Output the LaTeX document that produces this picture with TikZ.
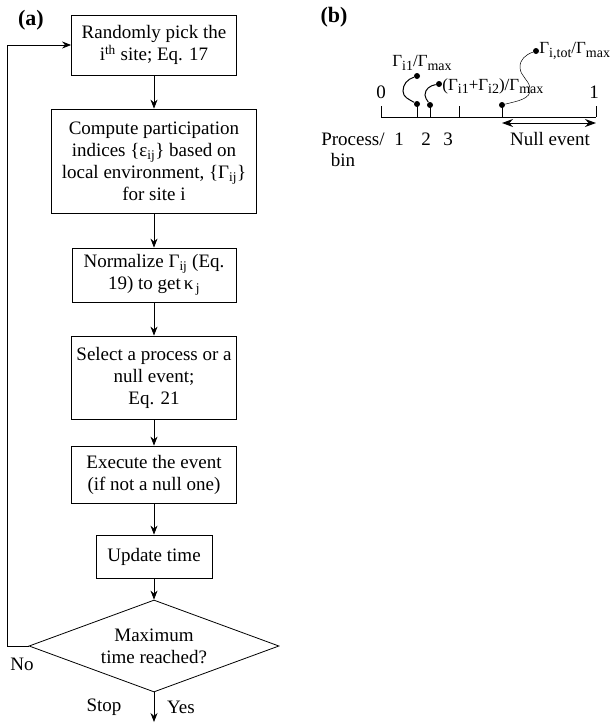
\documentclass[tikz,border=0pt]{standalone}
\usepackage{fontspec}
\setmainfont{Liberation Serif}
\usetikzlibrary{arrows.meta, positioning, shapes.geometric}
\newcommand{\lowsub}[1]{\raisebox{-0.4ex}{\fontsize{14}{14}\selectfont #1}}

\begin{document}
\begin{tikzpicture}[
x=1pt, y=-1pt,
>={Stealth[length=9pt,width=7pt]},
line width=0.8pt,
every node/.style={font=\fontsize{19}{22}\selectfont, inner sep=1pt},
stepbox/.style={draw, align=center},
dot/.style={circle, fill, inner sep=0pt, minimum size=6pt},
ratelabel/.style={font=\fontsize{17}{17}\selectfont},
panel/.style={font=\fontsize{22}{22}\selectfont\bfseries},
]
\useasboundingbox (0,0) rectangle (610,724);

% flow chart (a)
\node[panel] (pa) at (31,20) {(a)};
\node[stepbox, minimum width=165, minimum height=60] (pick) at (154,45) {Randomly pick the\\i\textsuperscript{th} site; Eq. 17};
\node[stepbox, minimum width=205, minimum height=104] (comp) at (154,161) {Compute participation\\indices \{ε\textsubscript{ij}\} based on\\local environment, \{Γ\textsubscript{ij}\}\\for site i};
\node[stepbox, minimum width=164, minimum height=54] (norm) at (154,275) {Normalize Γ\textsubscript{ij} (Eq.\\19) to get\,κ\textsubscript{\,j}};
\node[stepbox, minimum width=165, minimum height=83] (sel) at (154,377.5) {Select a process or a\\null event;\\Eq. 21};
\node[stepbox, minimum width=165, minimum height=57] (exec) at (154,474.5) {Execute the event\\(if not a null one)};
\node[stepbox, minimum width=116, minimum height=43] (upd) at (154,556.5) {Update time};
\node[draw, diamond, aspect=2.7, inner sep=0pt, minimum width=250, minimum height=92, align=center] (maxt) at (154,646) {Maximum\\time reached?};
\coordinate (back) at (7,646);
\coordinate (stop) at (154,722);
\node (no) at (22,664) {No};
\node (stp) at (104,707) {Stop};
\node (yes) at (181,707) {Yes};
% arrows
\draw[->] (pick) -- (comp);
\draw[->] (comp) -- (norm);
\draw[->] (norm) -- (sel);
\draw[->] (sel) -- (exec);
\draw[->] (exec) -- (upd);
\draw[->] (upd) -- (maxt);
\draw[->] (maxt.south) -- (stop);
\draw[->] (maxt.west) -- (back) |- (pick.west);

% number line (b)
\node[panel] (pb) at (334,17) {(b)};
\coordinate (zero) at (381,117);
\coordinate (one) at (596,117);
\draw[line width=1pt] (zero) -- (one);
\foreach \x in {381,417,430,459,502,596}
  \draw[line width=1pt] (\x,117) -- (\x,106);
\node (n0) at (381,92) {0};
\node (n1) at (594,92) {1};
\node[dot] (d1) at (417,104) {};
\node[dot] (u1) at (417,76) {};
\node[dot] (d2) at (430,105) {};
\node[dot] (u2) at (439,84) {};
\node[dot] (d3) at (502,105) {};
\node[dot] (u3) at (536,51) {};
\draw[line width=1pt] (d1) to[out=150,in=-90] (403,91) to[out=90,in=200] (u1);
\draw[line width=1pt] (d2) to[out=120,in=-90] (425,95) to[out=90,in=190] (u2);
\draw[line width=0.5pt] (d3) to[out=15,in=-80] (530,88) to[out=100,in=-90] (520,67) to[out=90,in=200] (u3);
\node[ratelabel] (r1) at (422,63) {Γ\lowsub{i1}/Γ\lowsub{max}};
\node[ratelabel, anchor=west] (r2) at (441,86) {(Γ\lowsub{i1}+Γ\lowsub{i2})/Γ\lowsub{max}};
\node[ratelabel, anchor=west] (r3) at (538,51) {Γ\lowsub{i,tot}/Γ\lowsub{max}};
% bins
\node (proc) at (353,139) {Process/};
\node (bin) at (343,160) {bin};
\node (b1) at (399,139) {1};
\node (b2) at (426,139) {2};
\node (b3) at (448,139) {3};
\coordinate (na) at (502,123);
\coordinate (nb) at (596,123);
\draw[{Stealth[length=11pt,width=8pt]}-{Stealth[length=11pt,width=8pt]}, line width=1pt] (na) -- (nb);
\node (null) at (550,139) {Null event};
\end{tikzpicture}
\end{document}
